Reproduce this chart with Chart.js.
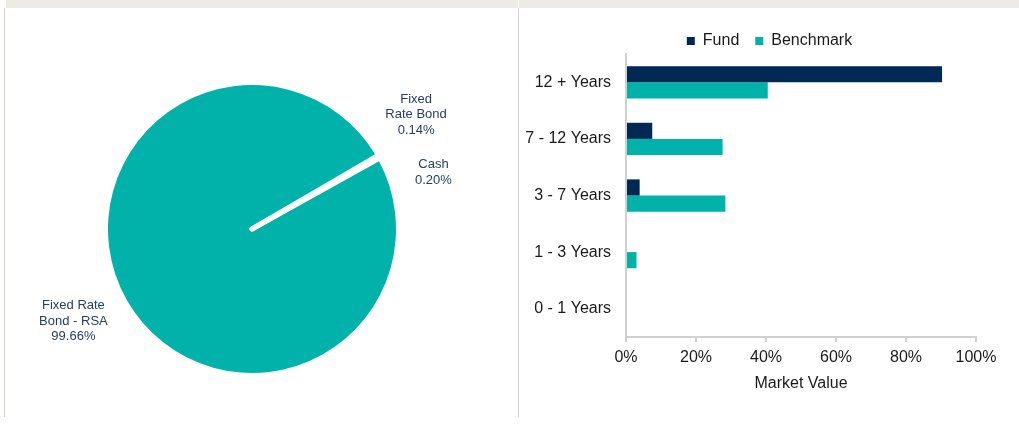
<!DOCTYPE html>
<html>
<head>
<meta charset="utf-8">
<script src="https://cdn.jsdelivr.net/npm/chart.js@4.4.1/dist/chart.umd.min.js"></script>
<style>
  html, body { margin: 0; padding: 0; background: #fff; }
  body { width: 1019px; height: 439px; position: relative; overflow: hidden; }
  .band { position: absolute; top: 0; height: 8px; background: #ecebe6; }
  .vline { position: absolute; top: 8px; width: 1px; height: 409px; background: #d9d3cb; }
  #pieWrap { position: absolute; left: 6px; top: 8px; width: 512px; height: 409px; }
  #barWrap { position: absolute; left: 519px; top: 8px; width: 500px; height: 409px; }
</style>
</head>
<body>
<div class="band" style="left:6px;width:512px"></div>
<div class="band" style="left:519px;width:500px"></div>
<div class="vline" style="left:4px"></div>
<div class="vline" style="left:518px"></div>
<div id="pieWrap"><canvas id="pieChart" width="512" height="409"></canvas></div>
<div id="barWrap"><canvas id="barChart" width="500" height="409"></canvas></div>
<script>
// Asset allocation (pie)
var pieLabels = ['Fixed Rate Bond - RSA', 'Fixed Rate Bond', 'Cash'];
var pieValues = [99.66, 0.14, 0.20];
var pieLabelLines = [['Fixed Rate', 'Bond - RSA'], ['Fixed', 'Rate Bond'], ['Cash']];

// Maturity profile (bars)
var barCategories = ['12 + Years', '7 - 12 Years', '3 - 7 Years', '1 - 3 Years', '0 - 1 Years'];
var fundValues = [90.3, 7.5, 3.9, 0, 0];
var benchmarkValues = [40.5, 27.6, 28.4, 3.0, 0];
var xTicks = [0, 20, 40, 60, 80, 100];

var teal = '#00b2a9';
var navy = '#002855';
var axisGrey = '#d0d0d0';

Chart.defaults.font.family = '"Liberation Sans", Arial, sans-serif';
Chart.defaults.color = '#1a1a1a';

// draws the wrapped slice labels outside the pie, Excel style
var pieLabelPlugin = {
  id: 'pieLabels',
  afterDatasetsDraw: function(chart) {
    var ctx = chart.ctx;
    var arcs = chart.getDatasetMeta(0).data;
    var nudges = [{ turn: 2.4, gap: 57 }, { turn: -4.8, gap: 56 }, { turn: 12.2, gap: 46 }];
    ctx.save();
    ctx.font = '13px "Liberation Sans", Arial, sans-serif';
    ctx.fillStyle = '#243e6a';
    ctx.textAlign = 'center';
    ctx.textBaseline = 'middle';
    arcs.forEach(function(arc, i) {
      var p = arc.getProps(['x', 'y', 'startAngle', 'endAngle', 'outerRadius'], true);
      var a = (p.startAngle + p.endAngle) / 2 + nudges[i].turn * Math.PI / 180;
      var r = p.outerRadius + nudges[i].gap;
      var cx = p.x + Math.cos(a) * r;
      var cy = p.y + Math.sin(a) * r;
      var lines = pieLabelLines[i].concat([pieValues[i].toFixed(2) + '%']);
      lines.forEach(function(t, j) {
        ctx.fillText(t, cx, cy + (j - (lines.length - 1) / 2) * 15.5);
      });
    });
    ctx.restore();
  }
};

// legend sits a bit right of the plot centre in the original
var legendShift = {
  id: 'legendShift',
  afterLayout: function(chart) {
    chart.legend.left += 22;
    chart.legend.right += 22;
  }
};

new Chart(document.getElementById('pieChart'), {
  type: 'pie',
  data: {
    labels: pieLabels,
    datasets: [{
      data: pieValues,
      backgroundColor: [teal, '#ffffff', '#ffffff'],
      borderColor: '#ffffff',
      borderWidth: [0, 5, 5],
      borderJoinStyle: 'round'
    }]
  },
  options: {
    responsive: false,
    animation: false,
    rotation: 60.9,
    radius: 144,
    layout: { padding: { left: 102, right: 122, top: 77, bottom: 44 } },
    plugins: { legend: { display: false }, tooltip: { enabled: false } }
  },
  plugins: [pieLabelPlugin]
});

new Chart(document.getElementById('barChart'), {
  type: 'bar',
  data: {
    labels: barCategories,
    datasets: [
      { label: 'Fund', data: fundValues, backgroundColor: navy, categoryPercentage: 0.57, barPercentage: 1.0 },
      { label: 'Benchmark', data: benchmarkValues, backgroundColor: teal, categoryPercentage: 0.57, barPercentage: 1.0 }
    ]
  },
  options: {
    indexAxis: 'y',
    responsive: false,
    animation: false,
    layout: { padding: { left: 0, right: 43, top: 9, bottom: 0 } },
    scales: {
      x: {
        min: 0,
        max: 100,
        afterBuildTicks: function(s) { s.ticks = xTicks.map(function(v) { return { value: v }; }); },
        afterFit: function(s) { s.height = 80; },
        ticks: {
          padding: 6,
          maxRotation: 0,
          font: { size: 16 },
          callback: function(v) { return v + '%'; }
        },
        grid: { drawOnChartArea: false, drawTicks: true, tickLength: 5, color: axisGrey, lineWidth: 2 },
        border: { color: axisGrey, width: 2 },
        title: { display: true, text: 'Market Value', font: { size: 16 }, padding: { top: 0, bottom: 24 } }
      },
      y: {
        afterFit: function(s) { s.width = 107; },
        ticks: { padding: 15, font: { size: 16 } },
        grid: { drawOnChartArea: false, drawTicks: false },
        border: { color: axisGrey, width: 2 }
      }
    },
    plugins: {
      legend: {
        position: 'top',
        maxHeight: 37,
        labels: { boxWidth: 8, boxHeight: 8, padding: 16, font: { size: 16 } }
      },
      tooltip: { enabled: false }
    }
  },
  plugins: [legendShift]
});
</script>
</body>
</html>
